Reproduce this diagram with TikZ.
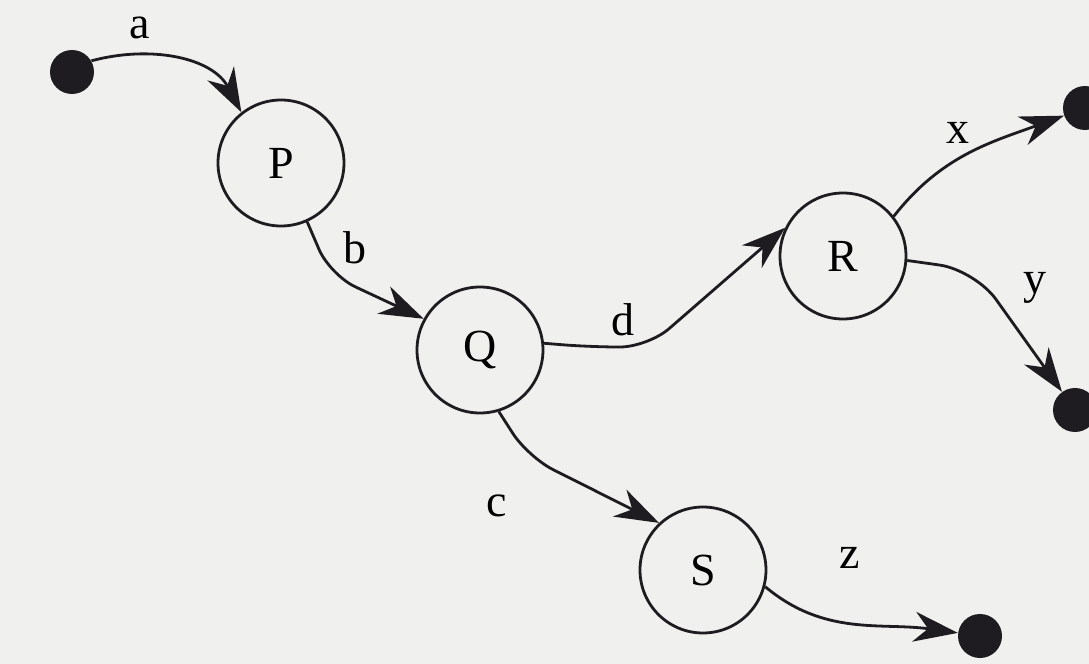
\documentclass[tikz,border=0pt]{standalone}
\usepackage{fontspec}
\setmainfont{Liberation Serif}
\usetikzlibrary{arrows.meta}
\definecolor{paper}{RGB}{240,240,238}
\definecolor{ink}{RGB}{30,28,32}
\begin{document}
\begin{tikzpicture}[x=0.5pt, y=0.5pt, >={Stealth[length=22pt,width=15pt,inset=7pt]},
    state/.style={circle, draw=ink, line width=1.4pt, minimum size=63pt, inner sep=0pt,
                  font=\fontsize{23}{27}\selectfont},
    dot/.style={circle, fill=ink, minimum size=22pt, inner sep=0pt},
    lbl/.style={font=\fontsize{23}{27}\selectfont, inner sep=0pt},
    arc/.style={->, draw=ink, line width=1.4pt, rounded corners=14pt}]
    % Nen
    \fill[paper] (0,0) rectangle (1089,-664);
    \useasboundingbox (0,0) rectangle (1089,-664);
    % Cac trang thai
    \node[state] (P) at (281,-163) {P};
    \node[state] (Q) at (480,-350) {Q};
    \node[state] (R) at (843,-256) {R};
    \node[state] (S) at (703,-570) {S};
    % Diem vao, diem ra
    \node[dot] (in) at (72,-72) {};
    \node[dot] (outx) at (1085,-108) {};
    \node[dot] (outy) at (1075,-410) {};
    \node[dot] (outz) at (980,-636) {};
    % Cac cung
    \draw[arc] (in.30) to[out=15, in=118] (P.128);
    \draw[arc] (P.-66) -- (330,-275) -- (Q.151);
    \draw[arc] (Q.6) -- (590,-347) -- (648,-347) -- (R.154);
    \draw[arc] (Q.-73) -- (528,-457) -- (S.133);
    \draw[arc] (R.38) to[out=52, in=200] (outx);
    \draw[arc, rounded corners=18pt] (R.-4) -- (975,-270) -- (outy);
    \draw[arc] (S.-15) to[out=-40, in=172] (outz);
    % Nhan
    \node[lbl] (la) at (140,-28) {a};
    \node[lbl] (lb) at (355,-248) {b};
    \node[lbl] (ld) at (623,-320) {d};
    \node[lbl] (lc) at (497,-506) {c};
    \node[lbl] (lx) at (958,-133) {x};
    \node[lbl] (ly) at (1035,-288) {y};
    \node[lbl] (lz) at (850,-558) {z};
\end{tikzpicture}
\end{document}
